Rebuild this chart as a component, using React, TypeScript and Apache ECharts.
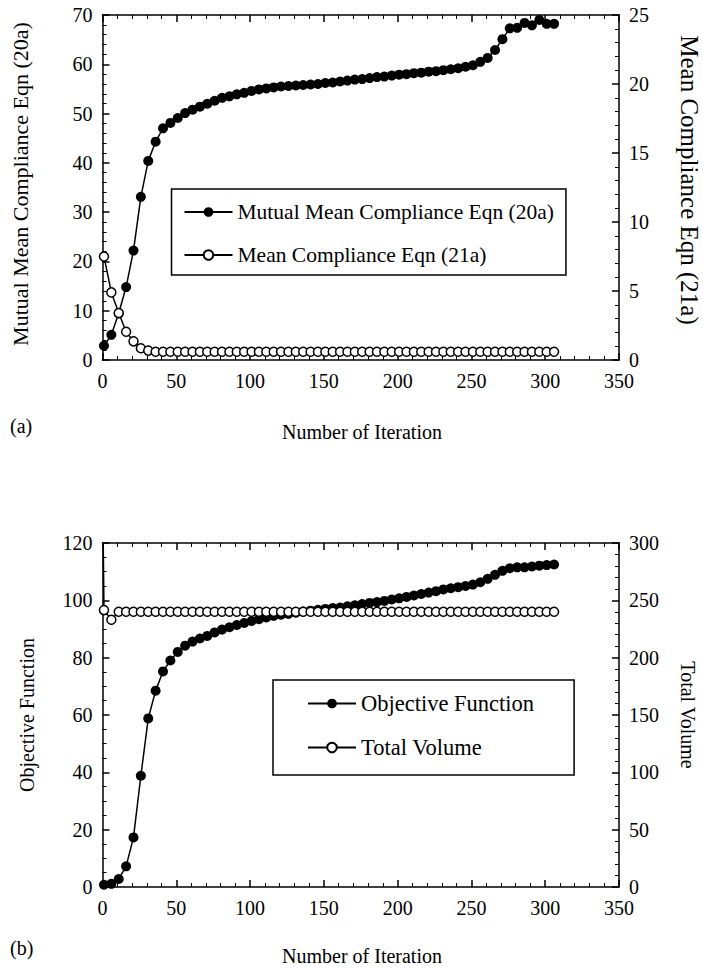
import React, { useEffect, useRef } from "react";
import * as echarts from "echarts";

const iterations = [1, 6, 11, 16, 21, 26, 31, 36, 41, 46, 51, 56, 61, 66, 71, 76, 81, 86, 91, 96, 101, 106, 111, 116, 121, 126, 131, 136, 141, 146, 151, 156, 161, 166, 171, 176, 181, 186, 191, 196, 201, 206, 211, 216, 221, 226, 231, 236, 241, 246, 251, 256, 261, 266, 271, 276, 281, 286, 291, 296, 301, 306];

const mutualMeanCompliance = [2.9, 5.1, 9.5, 14.8, 22.2, 33.1, 40.4, 44.3, 47.0, 48.1, 49.1, 50.1, 50.8, 51.4, 52.0, 52.6, 53.2, 53.5, 53.9, 54.2, 54.6, 54.9, 55.1, 55.3, 55.5, 55.6, 55.7, 55.8, 55.9, 56.0, 56.2, 56.3, 56.5, 56.7, 56.9, 57.0, 57.2, 57.4, 57.5, 57.7, 57.9, 58.0, 58.2, 58.3, 58.5, 58.6, 58.8, 59.0, 59.2, 59.5, 59.8, 60.5, 61.3, 62.9, 65.1, 67.3, 67.4, 68.4, 67.9, 69.0, 68.2, 68.2];

const meanCompliance = [7.5, 4.9, 3.4, 2.05, 1.35, 0.85, 0.68, 0.6, 0.6, 0.6, 0.6, 0.6, 0.6, 0.6, 0.6, 0.6, 0.6, 0.6, 0.6, 0.6, 0.6, 0.6, 0.6, 0.6, 0.6, 0.6, 0.6, 0.6, 0.6, 0.6, 0.6, 0.6, 0.6, 0.6, 0.6, 0.6, 0.6, 0.6, 0.6, 0.6, 0.6, 0.6, 0.6, 0.6, 0.6, 0.6, 0.6, 0.6, 0.6, 0.6, 0.6, 0.6, 0.6, 0.6, 0.6, 0.6, 0.6, 0.6, 0.6, 0.6, 0.6, 0.6];

const objectiveFunction = [0.8, 1.1, 2.8, 7.2, 17.3, 38.8, 58.8, 68.5, 75.2, 79.0, 82.0, 84.2, 85.6, 86.7, 87.6, 88.8, 89.8, 90.6, 91.4, 92.1, 92.8, 93.4, 94.0, 94.6, 95.0, 95.3, 95.7, 96.1, 96.4, 96.7, 97.0, 97.3, 97.5, 97.9, 98.3, 98.7, 99.1, 99.4, 99.8, 100.3, 100.7, 101.2, 101.7, 102.2, 102.7, 103.2, 103.8, 104.2, 104.6, 105.0, 105.5, 106.3, 107.5, 108.9, 110.3, 111.2, 111.5, 111.5, 111.8, 112.1, 112.3, 112.5];

const totalVolumeStart = [0, 360];
const totalVolume = [241.5, 233, 240, 240, 240, 240, 240, 240, 240, 240, 240, 240, 240, 240, 240, 240, 240, 240, 240, 240, 240, 240, 240, 240, 240, 240, 240, 240, 240, 240, 240, 240, 240, 240, 240, 240, 240, 240, 240, 240, 240, 240, 240, 240, 240, 240, 240, 240, 240, 240, 240, 240, 240, 240, 240, 240, 240, 240, 240, 240, 240, 240];

const xTicks = { min: 0, max: 350, interval: 50 };
const topLeftAxis = { min: 0, max: 70, interval: 10 };
const topRightAxis = { min: 0, max: 25, interval: 5 };
const bottomLeftAxis = { min: 0, max: 120, interval: 20 };
const bottomRightAxis = { min: 0, max: 300, interval: 50 };

const FONT = "Liberation Serif";

export default function App() {
  const ref = useRef<HTMLDivElement>(null);
  useEffect(() => {
    if (!ref.current) return;
    const chart = echarts.init(ref.current, null, { renderer: "svg" });

    const lineStyle = { color: "#000", width: 1.5 };
    const label = { fontFamily: FONT, fontSize: 20, color: "#000" };

    const xAxisBase = (grid: number, pos: "top" | "bottom", showLabel: boolean) => ({
      type: "value",
      gridIndex: grid,
      position: pos,
      ...xTicks,
      axisLine: { show: true, onZero: false, lineStyle },
      axisTick: { show: true, inside: true, length: 7, lineStyle },
      minorTick: { show: true, splitNumber: 5, length: 4, lineStyle: { color: "#000", width: 1 } },
      axisLabel: { show: showLabel, margin: 11, ...label },
      splitLine: { show: false },
      minorSplitLine: { show: false },
    });

    const yAxisBase = (grid: number, pos: "left" | "right", range: any, minorSplit: number) => ({
      type: "value",
      gridIndex: grid,
      position: pos,
      ...range,
      axisLine: { show: true, onZero: false, lineStyle },
      axisTick: { show: true, inside: true, length: 7, lineStyle },
      minorTick: { show: true, splitNumber: minorSplit, length: 4, lineStyle: { color: "#000", width: 1 } },
      axisLabel: { show: true, margin: 10, ...label },
      splitLine: { show: false },
      minorSplitLine: { show: false },
    });

    const filled = { symbol: "circle", symbolSize: 10, itemStyle: { color: "#000" }, lineStyle: { color: "#000", width: 1.5 } };
    const open = {
      symbol: "circle",
      symbolSize: 9,
      itemStyle: { color: "#fff", borderColor: "#000", borderWidth: 1.5 },
      lineStyle: { color: "#000", width: 1.5 },
    };

    const legendBase = {
      orient: "vertical",
      backgroundColor: "#fff",
      borderColor: "#000",
      borderWidth: 1.5,
      itemHeight: 12,
      itemWidth: 48,
      selectedMode: false,
    };

    chart.setOption({
      animation: false,
      backgroundColor: "#fff",
      grid: [
        { left: 102.5, top: 15, width: 516.5, height: 345 },
        { left: 102.5, top: 543, width: 516.5, height: 344 },
      ],
      xAxis: [
        xAxisBase(0, "bottom", true),
        xAxisBase(0, "top", false),
        xAxisBase(1, "bottom", true),
        xAxisBase(1, "top", false),
      ],
      yAxis: [
        yAxisBase(0, "left", topLeftAxis, 5),
        yAxisBase(0, "right", topRightAxis, 5),
        yAxisBase(1, "left", bottomLeftAxis, 4),
        yAxisBase(1, "right", bottomRightAxis, 5),
      ],
      legend: [
        {
          ...legendBase,
          left: 171.5,
          top: 189,
          padding: [12, 12, 9, 12],
          itemGap: 21,
          textStyle: { fontFamily: FONT, fontSize: 21.5, color: "#000" },
          data: ["Mutual Mean Compliance Eqn (20a)", "Mean Compliance Eqn (21a)"],
        },
        {
          ...legendBase,
          left: 273,
          top: 680,
          padding: [12, 40, 16, 34],
          itemGap: 21,
          textStyle: { fontFamily: FONT, fontSize: 22.5, color: "#000" },
          data: ["Objective Function", "Total Volume"],
        },
      ],
      series: [
        {
          name: "Mutual Mean Compliance Eqn (20a)",
          type: "line",
          xAxisIndex: 0,
          yAxisIndex: 0,
          clip: true,
          ...filled,
          data: iterations.map((it, i) => [it, mutualMeanCompliance[i]]),
        },
        {
          name: "Mean Compliance Eqn (21a)",
          type: "line",
          xAxisIndex: 0,
          yAxisIndex: 1,
          clip: true,
          ...open,
          data: iterations.map((it, i) => [it, meanCompliance[i]]),
        },
        {
          name: "Objective Function",
          type: "line",
          xAxisIndex: 2,
          yAxisIndex: 2,
          clip: true,
          ...filled,
          data: iterations.map((it, i) => [it, objectiveFunction[i]]),
        },
        {
          name: "Total Volume",
          type: "line",
          xAxisIndex: 2,
          yAxisIndex: 3,
          clip: true,
          ...open,
          data: [
            { value: totalVolumeStart, symbol: "none" },
            ...iterations.map((it, i) => [it, totalVolume[i]]),
          ],
        },
      ],
      graphic: [
        { type: "text", x: 20, y: 184, rotation: Math.PI / 2, style: { text: "Mutual Mean Compliance Eqn (20a)", fontFamily: FONT, fontSize: 22, fill: "#000", align: "center", verticalAlign: "middle" } },
        { type: "text", x: 689, y: 180, rotation: -Math.PI / 2, style: { text: "Mean Compliance Eqn (21a)", fontFamily: FONT, fontSize: 25, fill: "#000", align: "center", verticalAlign: "middle" } },
        { type: "text", x: 362, y: 432, style: { text: "Number of Iteration", fontFamily: FONT, fontSize: 20, fill: "#000", align: "center", verticalAlign: "middle" } },
        { type: "text", x: 10, y: 426, style: { text: "(a)", fontFamily: FONT, fontSize: 20, fill: "#000", align: "left", verticalAlign: "middle" } },
        { type: "text", x: 27, y: 715, rotation: Math.PI / 2, style: { text: "Objective Function", fontFamily: FONT, fontSize: 20, fill: "#000", align: "center", verticalAlign: "middle" } },
        { type: "text", x: 688, y: 715, rotation: -Math.PI / 2, style: { text: "Total Volume", fontFamily: FONT, fontSize: 20, fill: "#000", align: "center", verticalAlign: "middle" } },
        { type: "text", x: 362, y: 956, style: { text: "Number of Iteration", fontFamily: FONT, fontSize: 20, fill: "#000", align: "center", verticalAlign: "middle" } },
        { type: "text", x: 10, y: 948, style: { text: "(b)", fontFamily: FONT, fontSize: 20, fill: "#000", align: "left", verticalAlign: "middle" } },
      ],
    });

    return () => chart.dispose();
  }, []);

  return (
    <div
      ref={ref}
      style={{ position: "absolute", left: 0, top: 0, width: 703, height: 971, background: "#fff" }}
    />
  );
}
